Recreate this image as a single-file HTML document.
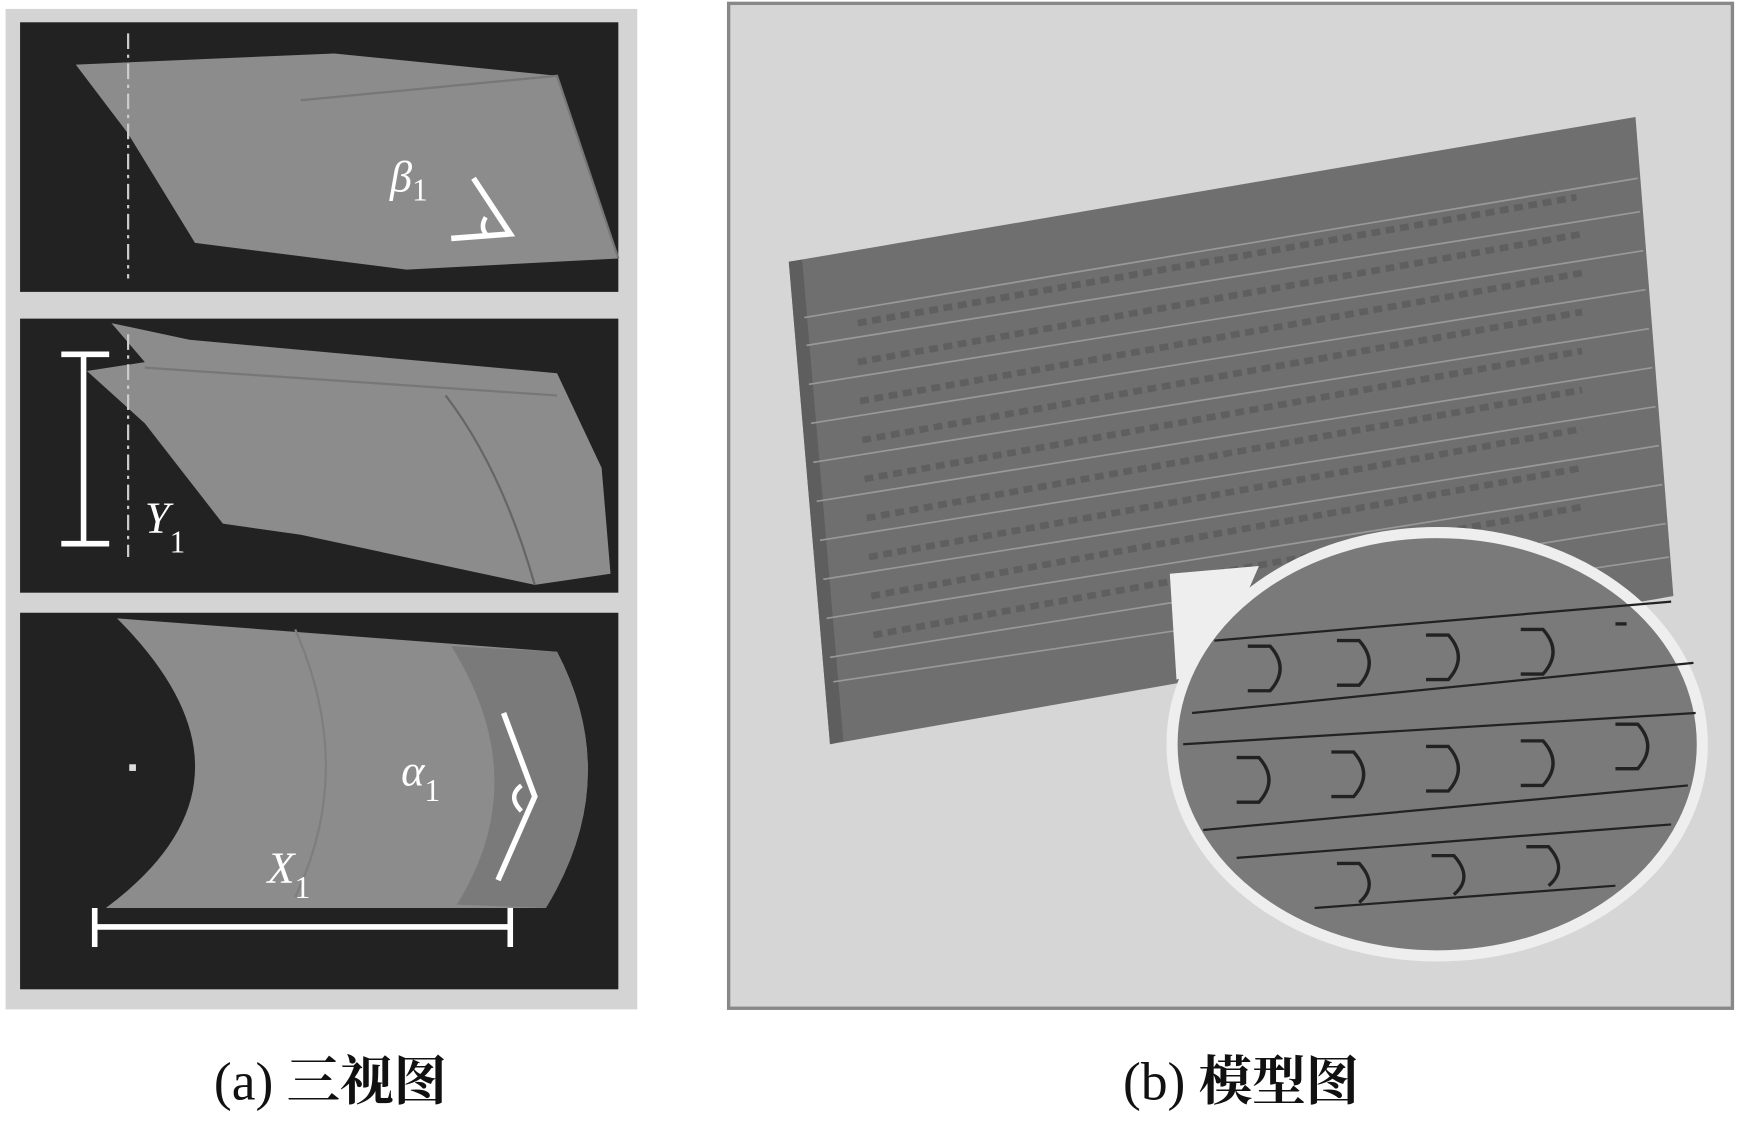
<!DOCTYPE html>
<html><head><meta charset="utf-8"><style>
html,body{margin:0;padding:0;background:#fff;width:1738px;height:1123px;overflow:hidden}
svg{display:block}
</style></head><body>
<svg width="1738" height="1123" viewBox="0 0 1560 1008" xmlns="http://www.w3.org/2000/svg" font-family="Liberation Serif, Noto Serif CJK SC, serif">
<rect x="0" y="0" width="1560" height="1008" fill="#fff"/>
<rect x="5" y="8" width="567" height="898" fill="#d4d4d4"/>
<!-- panel 1 -->
<rect x="18" y="20" width="537" height="242" fill="#222"/>
<polygon points="68,58 300,48 500,68 555,232 365,242 175,218 115,120" fill="#8c8c8c"/>
<polyline points="270,90 500,68 555,232" fill="none" stroke="#777" stroke-width="2"/>
<line x1="115" y1="30" x2="115" y2="250" stroke="#ccc" stroke-width="2" stroke-dasharray="14,5,3,5"/>
<text x="350" y="172" font-size="40" font-style="italic" fill="#fff">β<tspan font-size="28" font-style="normal" dy="8">1</tspan></text>
<polyline points="425,160 458,210 405,214" fill="none" stroke="#fff" stroke-width="5"/>
<path d="M436,195 Q430,205 438,212" fill="none" stroke="#fff" stroke-width="4"/>
<!-- panel 2 -->
<rect x="18" y="286" width="537" height="246" fill="#222"/>
<polygon points="100,290 170,305 500,335 540,420 548,515 480,525 270,480 200,470 130,380 78,333 130,325" fill="#8c8c8c"/>
<line x1="130" y1="330" x2="500" y2="355" stroke="#777" stroke-width="2"/>
<path d="M400,355 Q450,420 480,525" fill="none" stroke="#666" stroke-width="2"/>
<line x1="115" y1="300" x2="115" y2="500" stroke="#ccc" stroke-width="2" stroke-dasharray="14,5,3,5"/>
<path d="M55,318 H98 M75,318 V488 M55,488 H98" stroke="#fff" stroke-width="5" fill="none"/>
<text x="130" y="478" font-size="40" font-style="italic" fill="#fff">Y<tspan font-size="28" font-style="normal" dy="18">1</tspan></text>
<!-- panel 3 -->
<rect x="18" y="550" width="537" height="338" fill="#222"/>
<path d="M105,555 L500,585 Q560,700 490,815 L95,815 Q250,700 105,555 Z" fill="#8c8c8c"/>
<path d="M265,565 Q320,690 265,805" fill="none" stroke="#7e7e7e" stroke-width="2"/>
<path d="M405,580 Q480,700 410,812 L490,815 Q560,700 500,585 Z" fill="#7a7a7a"/>
<rect x="116" y="686" width="6" height="6" fill="#ddd"/>
<text x="360" y="705" font-size="40" font-style="italic" fill="#fff">α<tspan font-size="28" font-style="normal" dy="14">1</tspan></text>
<text x="240" y="792" font-size="40" font-style="italic" fill="#fff">X<tspan font-size="28" font-style="normal" dy="14">1</tspan></text>
<polyline points="452,640 480,715 447,790" fill="none" stroke="#fff" stroke-width="5"/>
<path d="M468,705 Q455,715 468,728" fill="none" stroke="#fff" stroke-width="4"/>
<path d="M85,815 V850 M85,832 H458 M458,815 V850" stroke="#fff" stroke-width="5" fill="none"/>
<!-- right panel -->
<rect x="654" y="3" width="901" height="902" fill="#d6d6d6" stroke="#888" stroke-width="3"/>
<polygon points="708,235 1468,105 1502,535 745,668" fill="#6f6f6f"/>
<polygon points="708,235 720,233 757,665 745,668" fill="#5e5e5e"/>
<g stroke="#999" stroke-width="1.5">
<line x1="722" y1="285" x2="1470" y2="160"/>
<line x1="724" y1="310" x2="1472" y2="190"/>
<line x1="726" y1="345" x2="1475" y2="225"/>
<line x1="728" y1="380" x2="1477" y2="260"/>
<line x1="730" y1="415" x2="1480" y2="295"/>
<line x1="733" y1="450" x2="1483" y2="330"/>
<line x1="736" y1="485" x2="1486" y2="365"/>
<line x1="739" y1="520" x2="1489" y2="400"/>
<line x1="742" y1="555" x2="1492" y2="435"/>
<line x1="745" y1="590" x2="1495" y2="470"/>
<line x1="748" y1="612" x2="1498" y2="500"/>
</g>
<g stroke="#555" stroke-width="6" stroke-dasharray="8,5" opacity="0.6">
<line x1="770" y1="290" x2="1415" y2="177"/>
<line x1="770" y1="325" x2="1420" y2="210"/>
<line x1="772" y1="360" x2="1420" y2="245"/>
<line x1="774" y1="395" x2="1420" y2="280"/>
<line x1="776" y1="430" x2="1420" y2="315"/>
<line x1="778" y1="465" x2="1420" y2="350"/>
<line x1="780" y1="500" x2="1420" y2="385"/>
<line x1="782" y1="535" x2="1420" y2="420"/>
<line x1="784" y1="570" x2="1420" y2="455"/>
</g>
<polygon points="1050,515 1130,508 1090,600 1056,610" fill="#eee"/>
<ellipse cx="1290" cy="668" rx="238" ry="190" fill="#7a7a7a" stroke="#eee" stroke-width="10"/>
<g stroke="#222" stroke-width="2">
<line x1="1090" y1="575" x2="1500" y2="540"/>
<line x1="1070" y1="640" x2="1520" y2="595"/>
<line x1="1062" y1="668" x2="1522" y2="640"/>
<line x1="1080" y1="745" x2="1515" y2="705"/>
<line x1="1110" y1="770" x2="1500" y2="740"/>
<line x1="1180" y1="815" x2="1450" y2="795"/>
</g>
<g fill="none" stroke="#222" stroke-width="3">
<path d="M1120,580 h20 q18,20 0,40 h-20"/><path d="M1200,575 h20 q18,20 0,40 h-20"/><path d="M1280,570 h20 q18,20 0,40 h-20"/><path d="M1365,565 h20 q18,20 0,40 h-20"/><path d="M1450,560 h10"/>
<path d="M1110,680 h20 q18,20 0,40 h-20"/><path d="M1195,675 h20 q18,20 0,40 h-20"/><path d="M1280,670 h20 q18,20 0,40 h-20"/><path d="M1365,665 h20 q18,20 0,40 h-20"/><path d="M1450,650 h20 q18,20 0,40 h-20"/>
<path d="M1200,775 h20 q18,20 0,35"/><path d="M1285,768 h20 q18,20 0,35"/><path d="M1370,760 h20 q18,20 0,35"/>
</g>
<!-- captions -->
<text x="192" y="987" font-size="48" fill="#111">(a) <tspan font-weight="bold">三视图</tspan></text>
<text x="1008" y="987" font-size="48" fill="#111">(b) <tspan font-weight="bold">模型图</tspan></text>
</svg>
</body></html>
